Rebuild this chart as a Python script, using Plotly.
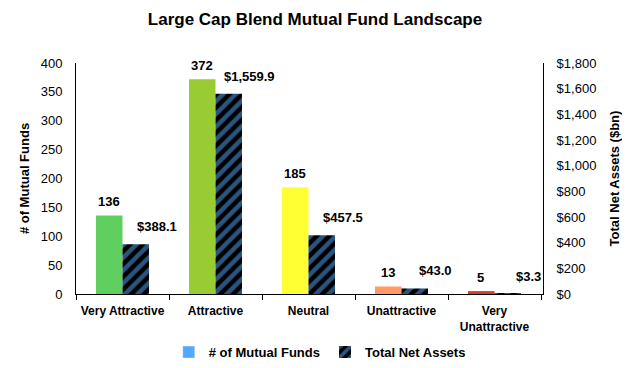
import plotly.graph_objects as go

categories = ["Very Attractive", "Attractive", "Neutral", "Unattractive", "Very<br>Unattractive"]
num_funds = [136, 372, 185, 13, 5]
net_assets = [388.1, 1559.9, 457.5, 43.0, 3.3]
fund_colors = ["#5FCF5F", "#99CC33", "#FFFF33", "#FF9966", "#D93A2B"]
left_ticks = [0, 50, 100, 150, 200, 250, 300, 350, 400]
right_ticks = [0, 200, 400, 600, 800, 1000, 1200, 1400, 1600, 1800]

FONT = "Liberation Sans, Arial, sans-serif"
BLUE = "#55A8FF"

fig = go.Figure()
# legend-only entry for the fund counts
fig.add_trace(go.Bar(x=[None], y=[None], name="# of Mutual Funds",
                     marker=dict(color=BLUE), yaxis="y"))
fig.add_trace(go.Bar(
    x=categories, y=num_funds, name="# of Mutual Funds",
    marker=dict(color=fund_colors, line=dict(width=0)),
    offsetgroup="a", yaxis="y", showlegend=False,
))
fig.add_trace(go.Bar(
    x=categories, y=net_assets, name="Total Net Assets",
    marker=dict(color="black", line=dict(width=0),
                pattern=dict(shape="/", fgcolor=BLUE, bgcolor="black", size=9, solidity=0.5)),
    offsetgroup="b", yaxis="y2",
))

lab_font = dict(family=FONT, size=13, color="black")
annotations = []
for c, v in zip(categories, num_funds):
    annotations.append(dict(x=c, y=v, xref="x", yref="y", text=f"<b>{v}</b>",
                            showarrow=False, yanchor="bottom", xshift=-14, yshift=4,
                            font=lab_font))
for c, v in zip(categories, net_assets):
    annotations.append(dict(x=c, y=v, xref="x", yref="y2", text=f"<b>${v:,.1f}</b>",
                            showarrow=False, yanchor="bottom", xshift=34, yshift=8,
                            font=lab_font))

fig.update_layout(
    width=614, height=352,
    margin=dict(l=68, r=79, t=55, b=66, autoexpand=False),
    paper_bgcolor="white", plot_bgcolor="white",
    barmode="group", bargap=0.43, bargroupgap=0,
    title=dict(text="<b>Large Cap Blend Mutual Fund Landscape</b>", x=0.5, xanchor="center",
               y=0.969, yanchor="middle", font=dict(family=FONT, size=17, color="black")),
    font=dict(family=FONT, size=13, color="black"),
    annotations=annotations,
    xaxis=dict(type="category", showline=True, linecolor="black", linewidth=1,
               ticks="outside", tickson="boundaries", ticklen=5, tickcolor="black",
               ticklabelstandoff=6, automargin=False,
               tickfont=dict(family=FONT, size=12, color="black", weight="bold")),
    yaxis=dict(range=[0, 400], tickvals=left_ticks, showgrid=False, zeroline=False,
               showline=True, linecolor="black", linewidth=1, automargin=False,
               ticklabelstandoff=10,
               tickfont=dict(family=FONT, size=13, color="black"),
               title=dict(text="<b># of Mutual Funds</b>", font=dict(family=FONT, size=13, color="black"), standoff=8)),
    yaxis2=dict(range=[0, 1800], tickvals=right_ticks,
                ticktext=[f"${v:,}" for v in right_ticks],
                overlaying="y", side="right", showgrid=False, zeroline=False,
                showline=True, linecolor="black", linewidth=1, automargin=False,
                ticklabelstandoff=10,
                tickfont=dict(family=FONT, size=13, color="black"),
                title=dict(text="<b>Total Net Assets ($bn)</b>", font=dict(family=FONT, size=13, color="black"), standoff=15)),
    legend=dict(orientation="h", x=0.522, xanchor="center", y=0.065, yanchor="top",
                yref="container", bgcolor="rgba(0,0,0,0)",
                font=dict(family=FONT, size=13, color="black", weight="bold"),
                itemwidth=30),
)

fig.write_html("out.html")
